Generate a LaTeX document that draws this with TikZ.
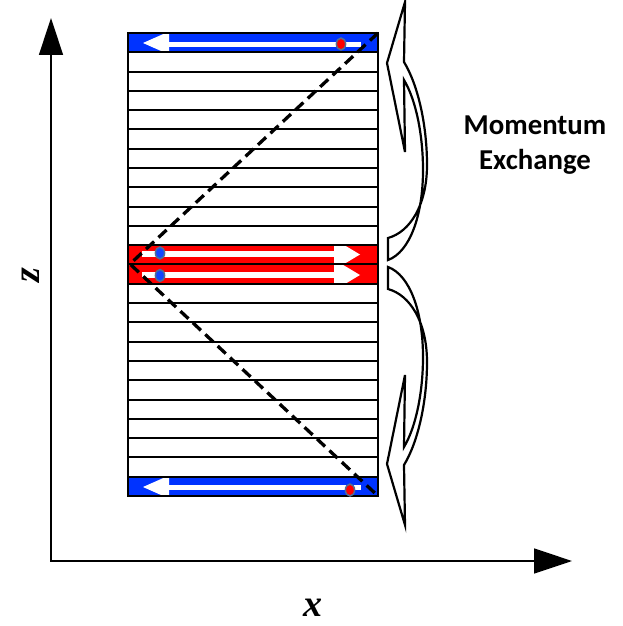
\documentclass[tikz,border=0pt]{standalone}
\usepackage{fontspec}
\setmainfont{Liberation Serif}
\newfontfamily\carlito{Carlito}
\usetikzlibrary{arrows.meta}
\definecolor{stripblue}{RGB}{0,51,255}
\definecolor{dotblue}{RGB}{20,70,255}
\definecolor{dotedge}{RGB}{85,110,145}
\begin{document}
\begin{tikzpicture}[x=1pt,y=-1pt,
  stripeline/.style={line width=2pt},
  frameline/.style={line width=2.2pt},
  axisline/.style={line width=1.5pt},
  dashline/.style={line width=3.3pt, dash pattern=on 11pt off 6pt},
  ribbon/.style={fill=white, draw=black, line width=2.2pt, line join=miter},
  dotred/.style={fill=red, draw=dotedge, line width=1.5pt},
  dotbl/.style={fill=dotblue, draw=dotedge, line width=1.5pt},
  labelfont/.style={font=\bfseries\itshape\fontsize{38}{44}\selectfont},
  mxfont/.style={font=\carlito\bfseries\fontsize{28.8}{34}\selectfont}
]
\useasboundingbox (0,0) rectangle (622,626);

% axes
\coordinate (O) at (51,561);
\coordinate (ztop) at (51,18);
\coordinate (xend) at (572,561);
\draw[axisline, {Triangle[length=37pt,width=24pt]}-{Triangle[length=38pt,width=25pt]}] (ztop) -- (O) -- (xend);
\node[labelfont, anchor=base] (xlab) at (313,616) {x};
\node[labelfont, rotate=90] (zlab) at (31,275) {z};

% coloured strips
\fill[stripblue] (128,33) rectangle (378,52.3);
\fill[stripblue] (128,476.7) rectangle (378,496);
\fill[red] (128,244.8) rectangle (378,283.4);

% white arrows in blue strips
\fill[white] (143,43) -- (169,31.5) -- (169,54.5) -- cycle;
\fill[white] (168,41.7) rectangle (361,46.7);
\fill[white] (143,487) -- (169,475.5) -- (169,498.5) -- cycle;
\fill[white] (168,484.7) rectangle (361,489.7);

% white arrows in red band
\fill[white] (142,250.7) rectangle (335,256.7);
\fill[white] (142,272) rectangle (335,278);
\begin{scope}
  \clip (128,244.8) rectangle (378,264.1);
  \fill[white] (334,239) -- (360,254.5) -- (334,270) -- cycle;
\end{scope}
\begin{scope}
  \clip (128,264.1) rectangle (378,283.4);
  \fill[white] (334,259.5) -- (360,275) -- (334,290.5) -- cycle;
\end{scope}

% stripe lines and frame
\foreach \k in {1,...,23} {
  \draw[stripeline] (128,{33+\k*19.29}) -- (378,{33+\k*19.29});
}
\draw[frameline] (128,33) rectangle (378,496);

% dashed path
\coordinate (dtop) at (378,33);
\coordinate (dmid) at (130,264);
\coordinate (dbot) at (378,496);
\draw[dashline] (dtop) -- (dmid) -- (dbot);

% dots
\path[dotred] (341,44) ellipse [x radius=4.6, y radius=6];
\path[dotred] (350,490) ellipse [x radius=4.6, y radius=6];
\path[dotbl] (160,253) ellipse [x radius=4.6, y radius=6];
\path[dotbl] (160,275.5) ellipse [x radius=4.6, y radius=6];

% curved block arrows
\path[ribbon] (405,2) -- (404,62)
  .. controls (418,85) and (427,125) .. (427,165)
  .. controls (427,205) and (410,232) .. (388,238)
  -- (388,260)
  .. controls (410,252) and (423,215) .. (423,170)
  .. controls (423,135) and (416,100) .. (404,80)
  -- (405,152) -- (387,63) -- cycle;
\begin{scope}[shift={(0,527)}, yscale=-1]
\path[ribbon] (405,2) -- (404,62)
  .. controls (418,85) and (427,125) .. (427,165)
  .. controls (427,205) and (410,232) .. (388,238)
  -- (388,260)
  .. controls (410,252) and (423,215) .. (423,170)
  .. controls (423,135) and (416,100) .. (404,80)
  -- (405,152) -- (387,63) -- cycle;
\end{scope}

% text
\node[mxfont, anchor=base] (mom) at (535,134) {Momentum};
\node[mxfont, anchor=base] (exc) at (535,169) {Exchange};
\end{tikzpicture}
\end{document}
